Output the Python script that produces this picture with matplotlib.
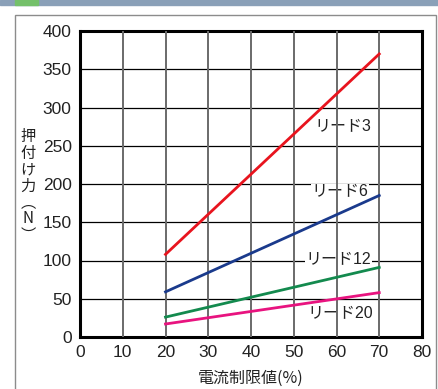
import matplotlib
matplotlib.use("Agg")
import matplotlib.pyplot as plt
from matplotlib.patches import Rectangle

plt.rcParams['font.family'] = ['Liberation Sans', 'Noto Sans CJK JP', 'DejaVu Sans']
CJK = ['Noto Sans CJK JP', 'DejaVu Sans']

# data
current_limit = [20, 70]
lead3  = [108, 370]
lead6  = [59, 185]
lead12 = [26, 91]
lead20 = [17, 58]
series_names  = ["リード3", "リード6", "リード12", "リード20"]
series_colors = ["#e8141e", "#1a3a8c", "#138a4e", "#e8137f"]
label_pos = [(61.5, 275), (60.8, 190), (60.4, 101), (60.8, 31)]
x_ticks = list(range(0, 81, 10))
y_ticks = list(range(0, 401, 50))

W, H = 438, 389
fig = plt.figure(figsize=(W / 100, H / 100), dpi=100)

# header strip and frame
fig.patches.append(Rectangle((0, 1 - 5 / H), 1, 5 / H, transform=fig.transFigure,
                             color="#8aa0b8", zorder=0))
fig.patches.append(Rectangle((15 / W, 1 - 5 / H), 23 / W, 5 / H, transform=fig.transFigure,
                             color="#74c06a", zorder=1))
fig.patches.append(Rectangle((15 / W, -0.05), (436 - 15) / W, 1.05 - 15 / H,
                             transform=fig.transFigure, fill=False,
                             edgecolor="#8c8c8c", linewidth=1.0, zorder=1))

ax = fig.add_axes([80 / W, 1 - 337 / H, (422 - 80) / W, (337 - 31) / H])
ax.set_xlim(0, 80)
ax.set_ylim(0, 400)

for yv in y_ticks[1:-1]:
    ax.axhline(yv, color="black", linewidth=0.9, zorder=1)
for xv in x_ticks[1:-1]:
    ax.axvline(xv, color="#6a6a6a", linewidth=1.4, zorder=3)

all_series = [lead3, lead6, lead12, lead20]
for vals, name, col, (lx, ly) in zip(all_series, series_names, series_colors, label_pos):
    ax.plot(current_limit, vals, color=col, linewidth=2.0, zorder=4)
    ax.text(lx, ly, name, ha="center", va="center", fontsize=11.5, color="#222222",
            bbox=dict(facecolor="white", edgecolor="none", pad=0.5), zorder=2)

for s in ax.spines.values():
    s.set_linewidth(2.2)
ax.set_xticks(x_ticks)
ax.set_yticks(y_ticks)
ax.tick_params(length=0, labelsize=12.5, pad=6, colors="#222222")

fig.text(251 / W, 1 - 378 / H, "電流制限値(%)", ha="center", va="center",
         fontsize=11.5, color="#222222", family=CJK)
fig.text(28 / W, 1 - 186 / H, "押\n付\nけ\n力\n︵\nN\n︶", ha="center", va="center",
         fontsize=11, color="#222222", linespacing=0.95, family=CJK)

fig.savefig("out.png", dpi=100)
